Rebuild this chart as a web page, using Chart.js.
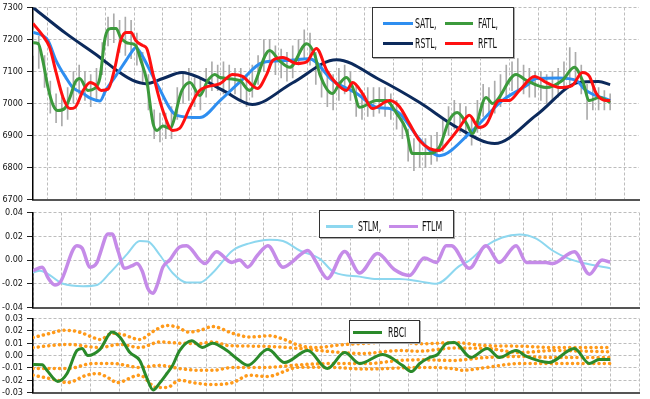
<!DOCTYPE html>
<html>
<head>
<meta charset="utf-8">
<script src="https://cdn.jsdelivr.net/npm/chart.js@4.4.1/dist/chart.umd.min.js"></script>
<style>
  body { margin: 0; background: #fff; width: 650px; height: 399px; position: relative; overflow: hidden;
         font-family: 'DejaVu Sans Condensed', 'Liberation Sans Narrow', sans-serif; }
  .panel { position: absolute; left: 0; width: 650px; }
  .box { position: absolute; background: #fff; border: 1.5px solid #333; box-shadow: 1px 1px 0 #aaa; }
  .sw { position: absolute; height: 3px; }
  .lbl { position: absolute; font-size: 14px; line-height: 14px; color: #111; white-space: nowrap;
         transform: scaleX(0.62); transform-origin: 0 0; }
</style>
</head>
<body>
<div class="panel" id="p1" style="top:0;height:206px"><canvas id="price"></canvas></div>
<div class="panel" id="p2" style="top:206px;height:104px"><canvas id="mom"></canvas></div>
<div class="panel" id="p3" style="top:310px;height:89px"><canvas id="rbci"></canvas></div>

<!-- legends -->
<div class="box" style="left:372px;top:7px;width:140px;height:49px"></div>
<div class="sw" style="left:383px;top:22px;width:30px;background:#2e8ef0"></div>
<div class="lbl" style="left:415px;top:16px">SATL,</div>
<div class="sw" style="left:445px;top:22px;width:28px;background:#3c9a3c"></div>
<div class="lbl" style="left:478px;top:16px">FATL,</div>
<div class="sw" style="left:383px;top:42px;width:30px;background:#0c2a5c"></div>
<div class="lbl" style="left:415px;top:36px">RSTL,</div>
<div class="sw" style="left:445px;top:42px;width:28px;background:#ff1010"></div>
<div class="lbl" style="left:478px;top:36px">RFTL</div>

<div class="box" style="left:319px;top:210px;width:133px;height:26px"></div>
<div class="sw" style="left:326px;top:225px;width:27px;background:#8dd7ef"></div>
<div class="lbl" style="left:358px;top:219px">STLM,</div>
<div class="sw" style="left:389px;top:225px;width:29px;background:#c58be8"></div>
<div class="lbl" style="left:422px;top:219px">FTLM</div>

<div class="box" style="left:349px;top:320px;width:69px;height:21px"></div>
<div class="sw" style="left:353px;top:331px;width:29px;background:#2a8a2a"></div>
<div class="lbl" style="left:388px;top:325px">RBCI</div>

<script>
// price bars, one per index 0..100
var barLow = [7150,7110,7050,6970,6940,6930,6950,7000,7030,7010,
  6990,7010,7090,7180,7190,7160,7150,7140,7120,7060,6980,
  6890,6880,6890,6890,6950,7000,7010,6990,6980,7020,
  7040,7040,7030,7030,7030,7010,6990,7020,7060,7100,
  7110,7090,7080,7070,7080,7120,7140,7120,7060,7020,
  6990,6980,7010,7030,7010,6960,6950,6960,6960,6970,
  6960,6950,6920,6890,6820,6790,6800,6800,6810,6820,
  6850,6900,6920,6910,6890,6870,6910,6960,6960,6970,
  6990,7020,7040,7040,7030,7020,7020,7010,7000,7010,
  7020,7040,7060,7070,7030,6950,6980,6980,6980,6980];
var barHigh = [7230,7210,7150,7070,7030,7020,7050,7100,7120,7100,
  7090,7110,7190,7270,7280,7260,7270,7260,7220,7160,7090,
  6980,6970,6970,6990,7050,7100,7110,7080,7080,7110,
  7130,7120,7130,7120,7110,7110,7090,7120,7150,7200,
  7200,7180,7170,7160,7180,7200,7230,7220,7160,7120,
  7090,7090,7110,7120,7100,7060,7040,7050,7050,7050,
  7050,7030,7010,6980,6920,6890,6880,6890,6900,6910,
  6950,6990,7010,7000,6990,6960,7010,7060,7050,7070,
  7090,7120,7130,7140,7120,7110,7100,7100,7090,7100,
  7110,7130,7175,7160,7120,7060,7050,7050,7040,7030];

// [bar index, value]
var satl = [[0,7222],[1.7,7212],[2.6,7197],[4,7134],[5.7,7081],[6.9,7050],[8.7,7031],[10,7016],[11.6,7008],
  [12.6,7041],[14.4,7088],[16.1,7134],[17.3,7166],[17.8,7175],[18.7,7156],[21.5,7060],[24.9,6963],[28.9,6956],
  [32.4,7009],[36,7070],[39.8,7128],[43.9,7134],[47.9,7140],[51.9,7072],[56.1,7031],[59.5,6988],[61.5,6985],
  [63.5,6969],[67,6888],[70.4,6837],[75.6,6906],[81.3,7009],[85.5,7056],[87.2,7078],[91,7080],[94.1,7072],
  [95.8,7041],[100,7009]];
var rstl = [[0,7300],[5.7,7219],[11.6,7144],[15,7097],[17.3,7072],[19.5,7062],[22.5,7078],[25.8,7097],
  [28.9,7080],[33,7040],[38,6997],[45,7065],[52.6,7137],[60,7075],[67,7003],[73.5,6925],[80,6875],
  [87.3,6965],[94.6,7066],[98,7069],[100,7059]];
var fatl = [[0,7190],[0.9,7187],[1.7,7134],[2.6,7050],[3.5,6994],[4.3,6978],[5.5,6985],[6.4,7019],[7.3,7066],
  [8.1,7078],[9.5,7041],[10.7,7047],[11.6,7081],[12.5,7206],[13.5,7234],[14.4,7234],[15.2,7206],[16.1,7191],
  [17,7187],[17.8,7181],[18.7,7134],[19.7,7072],[20.8,6938],[21.5,6916],[22.5,6930],[23.7,6922],[25.8,7041],
  [27.2,7066],[28.9,7025],[30.3,7072],[31.5,7091],[32.4,7081],[35.8,7072],[37.5,7041],[41,7166],[42.7,7134],
  [44.5,7113],[47.4,7187],[48.8,7153],[49.7,7091],[51.9,7031],[53.1,7062],[54.3,7081],[55.4,7050],[56.6,6988],
  [59.5,7009],[61.2,7009],[63,6969],[64.7,6916],[65.7,6844],[68.7,6844],[70.4,6863],[72.1,6947],[73.5,6972],
  [75.1,6938],[76.1,6906],[78.5,7019],[79.6,7000],[83.7,7091],[85.5,7072],[88.9,7050],[91.7,7072],[93.8,7113],
  [95.2,7072],[96.4,7009],[98.1,7019],[100,7003]];
var rftl = [[0,7250],[1.7,7212],[2.9,7175],[4,7097],[5.2,7019],[6.4,6984],[7.3,6988],[8.7,7041],[9.9,7066],
  [10.7,7060],[11.8,7041],[13,7045],[14.2,7113],[15.2,7197],[16.1,7222],[17,7222],[17.8,7197],[19,7181],
  [19.7,7172],[20.8,7091],[22.5,6978],[24.2,6916],[25.4,6922],[27.2,6988],[28.9,7041],[32.4,7062],[34.6,7091],
  [36.3,7085],[38.9,7047],[40.5,7091],[41.5,7134],[43.3,7144],[45.7,7125],[47.4,7130],[49.1,7172],[50.9,7103],
  [52.6,7062],[54.3,7041],[55.4,7066],[57.1,7031],[58.8,6984],[61.8,7009],[63.5,6990],[65.2,6938],[67,6884],
  [68.7,6859],[70.4,6853],[72.1,6884],[73.9,6925],[75.6,6963],[77.3,6925],[78.5,6934],[80.8,7009],[82.5,7009],
  [84.3,7041],[86.9,7084],[88.9,7066],[91.2,7050],[93.4,7056],[95.2,7097],[96.4,7085],[97.6,7031],[99.3,7009],
  [100,7009]];

var stlm = [[0,-0.0105],[1.2,-0.009],[5.2,-0.020],[8.7,-0.022],[11.1,-0.021],[13.3,-0.011],[16.3,0.005],
  [18.5,0.016],[19.9,0.0155],[22,0.004],[24.2,-0.011],[26.6,-0.019],[28.9,-0.019],[31.1,-0.011],[34.6,0.008],
  [37.5,0.014],[41,0.017],[43.3,0.016],[46.2,0.008],[49.7,0.001],[52.2,-0.0105],[56.6,-0.014],[59.5,-0.016],
  [63.5,-0.016],[67,-0.018],[69.9,-0.020],[73.9,-0.005],[75.6,-0.0004],[78.5,0.012],[81.3,0.019],[84.3,0.0215],
  [87.2,0.018],[90,0.008],[92.9,0.001],[95.8,-0.003],[100,-0.007]];
var ftlm = [[0,-0.009],[1.6,-0.006],[2.6,-0.015],[3.8,-0.021],[4.7,-0.019],[7.6,0.012],[8.5,0.010],[9.9,-0.006],
  [11.1,-0.002],[11.6,0.005],[13,0.022],[13.7,0.022],[14.7,0.008],[15.9,-0.007],[17.1,-0.005],[18,-0.003],
  [18.9,-0.009],[19.9,-0.024],[20.8,-0.028],[21.6,-0.020],[22.5,-0.006],[23.7,0.000],[25.4,0.011],[26.6,0.012],
  [28.9,0.000],[29.8,-0.003],[31.8,0.007],[34.4,-0.002],[35.8,0.000],[37.2,-0.006],[38.9,0.004],[40.7,0.012],
  [43.3,-0.006],[44.8,-0.002],[46.2,0.004],[47.6,0.008],[49.1,-0.002],[50,-0.010],[51,-0.0156],[54,0.0072],
  [56.6,-0.011],[59.7,0.0055],[62.6,-0.008],[65.2,-0.013],[67.8,0.0016],[69.9,-0.002],[71.6,0.012],[72.5,0.012],
  [75.6,-0.007],[78.5,0.012],[80.8,-0.002],[83.7,0.012],[85.5,-0.002],[88.9,-0.002],[90,-0.003],[93.8,0.007],
  [96.4,-0.012],[98.6,0.000],[100,-0.002]];

var rbci = [[0,-0.0073],[1.6,-0.0075],[2.4,-0.012],[4.3,-0.021],[5.9,-0.0146],[7.6,0.004],[8.5,0.0057],
  [9.5,0.000],[11.6,0.005],[13.7,0.019],[15.1,0.0146],[16.8,0.0024],[18.5,-0.004],[19.7,-0.018],[20.8,-0.028],
  [22,-0.022],[23.2,-0.0146],[24.2,-0.008],[25.4,0.004],[27.5,0.012],[29.4,0.0065],[31.1,0.010],[33.6,0.004],
  [35.3,-0.0024],[37.2,-0.008],[40.7,0.005],[43.6,-0.0057],[47.6,0.004],[51,-0.0106],[54,0.0024],[56.6,-0.0065],
  [60.6,0.0008],[64,-0.008],[65.6,-0.013],[67,-0.0065],[68.7,-0.0016],[70.1,0.0008],[71.6,0.0097],[73,0.0105],
  [75.9,-0.0016],[78.7,0.0057],[80.8,-0.0016],[83.7,0.004],[85.5,-0.0008],[89.4,-0.0057],[93.8,0.0057],
  [96.4,-0.0065],[98.1,-0.0033],[100,-0.0033]];
var upperOuter = [[0,0.0146],[3,0.018],[5.5,0.0205],[8,0.019],[10.4,0.0146],[11.6,0.013],[13.8,0.018],[15.5,0.017],
  [18.5,0.013],[20.8,0.0195],[23.2,0.0243],[25,0.023],[27,0.019],[29,0.0205],[31.1,0.0235],[34.6,0.018],
  [37.5,0.015],[41,0.016],[43.5,0.013],[46.2,0.008],[49.1,0.0065],[53,0.0085],[58,0.010],[63,0.0115],
  [67,0.0095],[73,0.0105],[78.5,0.008],[85,0.0075],[90,0.0065],[100,0.0065]];
var upperInner = [[0,0.0065],[6,0.009],[11.6,0.0065],[15,0.009],[18.5,0.0065],[22,0.011],[25.4,0.010],
  [28.9,0.0097],[31.1,0.011],[34,0.008],[40,0.0075],[46.2,0.0057],[52,0.003],[57,0.0016],[63.5,0.004],
  [67,0.0035],[72.7,0.006],[78.5,0.0057],[84.3,0.0024],[90,0.004],[100,0.003]];
var lowerInner = [[0,-0.0106],[6,-0.0106],[10.4,-0.0065],[13.8,-0.0065],[18.5,-0.0097],[22,-0.008],
  [25.4,-0.0106],[28.9,-0.012],[31.1,-0.012],[34.6,-0.0097],[40,-0.0097],[46.2,-0.0075],[52,-0.0065],
  [58,-0.0065],[63.5,-0.004],[67,-0.0035],[72.7,-0.004],[78.5,-0.0016],[84.3,-0.0008],[90,-0.0016],[100,-0.0016]];
var lowerOuter = [[0,-0.016],[4.2,-0.020],[5.9,-0.022],[9.3,-0.016],[11.1,-0.0146],[13.3,-0.0187],[14.5,-0.022],
  [18.5,-0.016],[21.4,-0.026],[23.2,-0.026],[25.4,-0.020],[27.7,-0.022],[31.1,-0.0235],[34.6,-0.022],
  [37.5,-0.016],[40.5,-0.017],[46.2,-0.0095],[52,-0.0097],[57.5,-0.011],[67,-0.0097],[72.7,-0.0106],
  [74.4,-0.012],[78.5,-0.0097],[84.3,-0.0065],[100,-0.0065]];

var tickFont = { family: "'DejaVu Sans Condensed', 'Liberation Sans Narrow', sans-serif", size: 9, lineHeight: 1 };

function pts(arr) {
  return arr.map(function (p) { return { x: p[0], y: p[1] }; });
}

function line(label, arr, color, width, order) {
  return {
    type: 'line', label: label, data: pts(arr), borderColor: color, borderWidth: width,
    pointRadius: 0, fill: false, cubicInterpolationMode: 'monotone', order: order
  };
}

function dotted(arr) {
  var d = line('band', arr, '#ff9a1a', 3.5, 5);
  d.borderDash = [0.1, 5.2];
  d.borderCapStyle = 'round';
  return d;
}

function xScale() {
  return {
    type: 'linear', min: 0, max: 105, offset: false,
    ticks: { display: false, stepSize: 5 },
    grid: { color: '#bdbdbd', drawTicks: false, lineWidth: 1 },
    border: { color: '#555', width: 2, dash: [3, 2] }
  };
}

function yScale(min, max, step, digits) {
  return {
    min: min, max: max,
    ticks: {
      stepSize: step, font: tickFont, color: '#111', padding: 4, autoSkip: false,
      callback: function (v) { return Math.abs(v) < 1e-9 ? (0).toFixed(digits) : v.toFixed(digits); }
    },
    grid: { color: '#bdbdbd', tickLength: 6, tickColor: '#222', lineWidth: 1 },
    border: { color: '#000', width: 1.5, dash: [3, 2] },
    afterFit: function (s) { s.width = 33; }
  };
}

// build a panel, then move/resize its box so the plot area sits at top..bottom
function makeChart(id, boxId, datasets, y, top, bottom) {
  var box = document.getElementById(boxId);
  var chart = new Chart(document.getElementById(id), {
    type: 'line',
    data: { datasets: datasets },
    options: {
      responsive: true, maintainAspectRatio: false, animation: false,
      layout: { padding: { top: 0, right: 11, bottom: 0, left: 0 } },
      plugins: { legend: { display: false }, tooltip: { enabled: false } },
      scales: { x: xScale(), y: y }
    }
  });
  var a = chart.chartArea;
  var h = box.offsetHeight + (bottom - top) - (a.bottom - a.top);
  box.style.height = h + 'px';
  chart.resize(650, h);
  a = chart.chartArea;
  box.style.top = (top - a.top) + 'px';
  return chart;
}

var bars = {
  type: 'bar', label: 'price',
  data: barLow.map(function (l, i) { return { x: i, y: [l, barHigh[i]] }; }),
  backgroundColor: '#ababab', barThickness: 1, order: 10
};

makeChart('price', 'p1', [
  bars,
  line('RSTL', rstl, '#0c2a5c', 3, 4),
  line('SATL', satl, '#2e8ef0', 3, 3),
  line('FATL', fatl, '#3c9a3c', 3, 2),
  line('RFTL', rftl, '#ff1010', 3, 1)
], yScale(6700, 7300, 100, 0), 7, 199);

makeChart('mom', 'p2', [
  line('STLM', stlm, '#8dd7ef', 2, 2),
  line('FTLM', ftlm, '#c58be8', 3.5, 1)
], yScale(-0.04, 0.04, 0.02, 2), 212, 307);

makeChart('rbci', 'p3', [
  dotted(upperOuter), dotted(upperInner), dotted(lowerInner), dotted(lowerOuter),
  line('RBCI', rbci, '#2a8a2a', 3, 1)
], yScale(-0.03, 0.03, 0.01, 2), 318, 392);
</script>
</body>
</html>
